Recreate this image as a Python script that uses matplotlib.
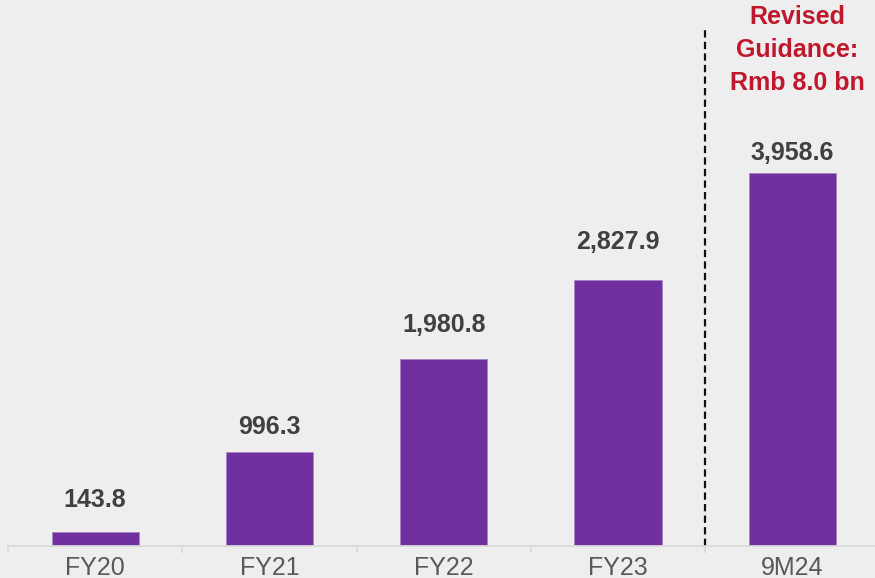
import numpy as np
import matplotlib.pyplot as plt

plt.rcParams['font.family'] = ['Liberation Sans', 'DejaVu Sans']

# data
periods = ["FY20", "FY21", "FY22", "FY23", "9M24"]
values = [143.8, 996.3, 1980.8, 2827.9, 3958.6]
note = "Revised\nGuidance:\nRmb 8.0 bn"

# gap between bar top and label baseline (px)
label_gap = [25, 18, 27, 31, 13]

bg = '#eeeeee'
fig = plt.figure(figsize=(8.75, 5.78), dpi=100, facecolor=bg)
ax = fig.add_axes([8/875, 32/578, 871.5/875, 546/578])
ax.set_facecolor(bg)

x = np.arange(len(periods))
ax.bar(x, values, width=0.5, color='#7030a0', edgecolor='#a57cc4', linewidth=0.4)

for xi, v, g in zip(x, values, label_gap):
    ax.annotate(f"{v:,.1f}", (xi, v), xytext=(0, g*0.72), textcoords='offset points',
                ha='center', va='baseline', fontsize=18, fontweight='bold', color='#404040')

ax.set_xlim(-0.5, 4.5)
ax.set_ylim(0, 546/0.0942)

# dashed separator before the YTD bar
ax.plot([3.5, 3.5], [0, (546-29)/0.0942], color='#111111', lw=1.6,
        dashes=(3.3, 1.9), clip_on=False)
ax.text(4.03, (546-5)/0.0942, note, ha='center', va='top', fontsize=18,
        fontweight='bold', color='#c0172c', linespacing=1.48)

for s in ['top', 'right', 'left']:
    ax.spines[s].set_visible(False)
ax.spines['bottom'].set_color('#d9d9d9')
ax.spines['bottom'].set_linewidth(1.3)
ax.set_yticks([])
ax.set_xticks(x)
ax.set_xticklabels(periods, fontsize=18, color='#595959')
ax.tick_params(axis='x', which='major', length=0, pad=7.5)
ax.set_xticks(np.arange(-0.5, 5, 1), minor=True)
ax.tick_params(axis='x', which='minor', length=5, width=1.3, color='#d9d9d9')

fig.savefig('out.png', dpi=100, facecolor=bg)
